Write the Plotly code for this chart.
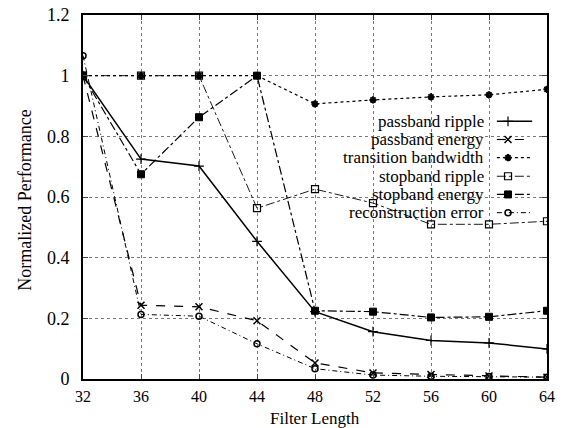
import plotly.graph_objects as go

filter_length = [32, 36, 40, 44, 48, 52, 56, 60, 64]

passband_ripple = [1.0, 0.725, 0.702, 0.454, 0.222, 0.156, 0.127, 0.119, 0.099]
passband_energy = [1.0, 0.243, 0.238, 0.192, 0.053, 0.02, 0.015, 0.01, 0.006]
transition_bandwidth = [1.0, 1.0, 1.0, 1.0, 0.907, 0.92, 0.93, 0.937, 0.955]
stopband_ripple = [1.0, 1.0, 1.0, 0.563, 0.626, 0.58, 0.51, 0.51, 0.52]
stopband_energy = [1.0, 0.675, 0.863, 1.0, 0.225, 0.222, 0.203, 0.205, 0.225]
reconstruction_error = [1.066, 0.213, 0.207, 0.116, 0.034, 0.013, 0.009, 0.008, 0.006]

series_names = ["passband ripple", "passband energy", "transition bandwidth",
                "stopband ripple", "stopband energy", "reconstruction error"]
series_values = [passband_ripple, passband_energy, transition_bandwidth,
                 stopband_ripple, stopband_energy, reconstruction_error]

styles = [
    dict(dash="solid", width=1.5, symbol="cross-thin", size=7, mlw=1.2),
    dict(dash="dash", width=1.2, symbol="x-thin", size=7, mlw=1.5),
    dict(dash="dot", width=1.2, symbol="asterisk", size=6, mlw=2),
    dict(dash="dashdot", width=0.9, symbol="square-open", size=7, mlw=1.2),
    dict(dash="dashdot", width=1.2, symbol="square", size=7, mlw=1),
    dict(dash="5px,3px,1px,3px", width=1.0, symbol="circle-open", size=6, mlw=1.5),
]

fig = go.Figure()
serif = "Liberation Serif, Times New Roman, serif"

for name, vals, st in zip(series_names, series_values, styles):
    fig.add_trace(go.Scatter(
        x=filter_length, y=vals, mode="lines+markers", name=name,
        line=dict(color="black", width=st["width"], dash=st["dash"]),
        marker=dict(symbol=st["symbol"], size=st["size"], color="black",
                    line=dict(color="black", width=st["mlw"])),
        showlegend=False,
    ))

# custom legend: text right-aligned, sample to the right
leg_y = [0.708, 0.658, 0.608, 0.557, 0.507, 0.457]
for name, st, yy in zip(series_names, styles, leg_y):
    fig.add_annotation(x=0.868, y=yy, xref="paper", yref="paper", text=name,
                       showarrow=False, xanchor="right", yanchor="middle",
                       font=dict(family=serif, size=17, color="black"))
    fig.add_trace(go.Scatter(
        x=[0.892, 0.916, 0.968], y=[yy, yy, yy], xaxis="x2", yaxis="y2",
        mode="lines", line=dict(color="black", width=st["width"], dash=st["dash"]),
        showlegend=False, hoverinfo="skip"))
    fig.add_trace(go.Scatter(
        x=[0.916], y=[yy], xaxis="x2", yaxis="y2", mode="markers",
        marker=dict(symbol=st["symbol"], size=st["size"], color="black",
                    line=dict(color="black", width=st["mlw"])),
        showlegend=False, hoverinfo="skip"))

# axis titles
fig.add_annotation(x=0.5, y=-0.138, xref="paper", yref="paper", text="Filter Length",
                   showarrow=False, xanchor="center", yanchor="bottom",
                   borderpad=0,
                   font=dict(family=serif, size=17, color="black"))
fig.add_annotation(x=-0.125, y=0.49, xref="paper", yref="paper",
                   text="Normalized Performance", textangle=-90,
                   showarrow=False, xanchor="center", yanchor="middle",
                   font=dict(family=serif, size=18, color="black"))

fig.update_layout(
    width=563, height=428,
    margin=dict(l=83, r=16, t=15, b=49),
    paper_bgcolor="white", plot_bgcolor="white",
    font=dict(family=serif, size=18, color="black"),
    xaxis=dict(range=[32, 64], tickvals=filter_length, ticks="inside", ticklen=5,
               showline=True, mirror="ticks", linecolor="black", linewidth=2,
               showgrid=True, gridcolor="#777", griddash="dot", gridwidth=1,
               zeroline=False, ticklabelstandoff=2, automargin=False,
               tickfont=dict(family=serif, size=16)),
    yaxis=dict(range=[0, 1.2], dtick=0.2, tick0=0, ticks="inside", ticklen=5,
               showline=True, mirror="ticks", linecolor="black", linewidth=2,
               showgrid=True, gridcolor="#777", griddash="dot", gridwidth=1,
               zeroline=False, ticklabelstandoff=8, automargin=False,
               tickfont=dict(family=serif, size=18)),
    xaxis2=dict(domain=[0, 1], range=[0, 1], overlaying="x", visible=False,
                fixedrange=True),
    yaxis2=dict(domain=[0, 1], range=[0, 1], overlaying="y", visible=False,
                fixedrange=True, anchor="x2"),
)

fig.write_html("out.html")
